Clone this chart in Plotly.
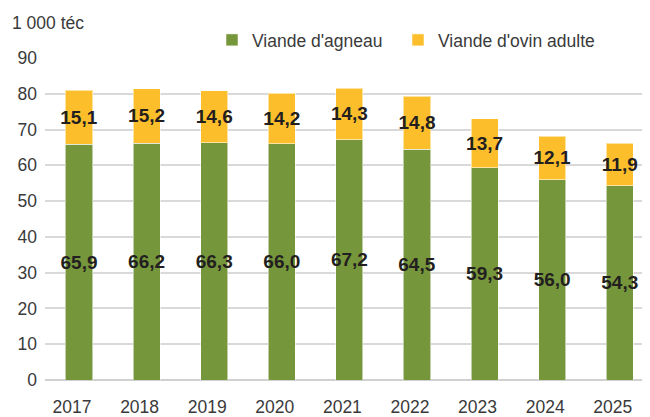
import plotly.graph_objects as go

years = ["2017", "2018", "2019", "2020", "2021", "2022", "2023", "2024", "2025"]
agneau = [65.9, 66.2, 66.3, 66.0, 67.2, 64.5, 59.3, 56.0, 54.3]
ovin_adulte = [15.1, 15.2, 14.6, 14.2, 14.3, 14.8, 13.7, 12.1, 11.9]
y_ticks = [0, 10, 20, 30, 40, 50, 60, 70, 80, 90]

GREEN = "#76963B"
YELLOW = "#FDBE2B"
FONT = "Liberation Sans, Arial, sans-serif"
TXT = "#3A3A3A"

fig = go.Figure()
for vals, name, col, leg in [(agneau, "Viande d'agneau", GREEN, "legend"),
                             (ovin_adulte, "Viande d'ovin adulte", YELLOW, "legend2")]:
    fig.add_trace(go.Bar(
        x=years, y=vals, name=name, legend=leg,
        marker=dict(color=col, line=dict(color="rgba(255,255,255,0.55)", width=1)),
        texttemplate="%{y:.1f}", textposition="inside", insidetextanchor="middle",
        textangle=0, constraintext="none",
        textfont=dict(family=FONT, size=19, color="#231F20", weight="bold"),
    ))

# page has an 8px body margin: figure coords = page coords - 8
OFF = 8
W, H = 650 - OFF, 417 - OFF
ML, MR, MT, MB = 45 - OFF, 0, 58 - OFF, H - (380 - OFF)

leg_common = dict(
    orientation="h", xref="container", yref="container",
    xanchor="left", y=1 - (40 - OFF) / H, yanchor="middle",
    font=dict(family=FONT, size=17.5, color=TXT),
    bgcolor="rgba(0,0,0,0)",
)

fig.update_layout(
    width=W, height=H,
    barmode="stack", bargap=0.6,
    separators=", ",
    margin=dict(l=ML, r=MR, t=MT, b=MB, autoexpand=False),
    paper_bgcolor="white", plot_bgcolor="white",
    font=dict(family=FONT, size=17.5, color=TXT),
    showlegend=True,
    legend=dict(x=(212 - OFF) / W, **leg_common),
    legend2=dict(x=(398 - OFF) / W, **leg_common),
    xaxis=dict(
        type="category", range=[-0.503, 8.447],
        showgrid=False, zeroline=False, showline=False,
        ticks="", ticklabelstandoff=14, ticklabelshift=-7,
        tickfont=dict(family=FONT, size=17.5, color=TXT),
    ),
    yaxis=dict(
        range=[0, 90], tickvals=y_ticks,
        showgrid=True, gridcolor="#D9D9D9", gridwidth=1.5,
        zeroline=True, zerolinecolor="#D0D0D0", zerolinewidth=2,
        showline=False, ticks="", ticklabelstandoff=7,
        tickfont=dict(family=FONT, size=17.5, color=TXT),
    ),
    annotations=[dict(
        text="1 000 téc", showarrow=False,
        xref="paper", yref="paper",
        x=(10 - 45) / (W - ML - MR), xanchor="left",
        y=1 + (58 - 23) / (H - MT - MB), yanchor="middle",
        font=dict(family=FONT, size=17.5, color=TXT),
    )],
)

fig.write_html("out.html")
